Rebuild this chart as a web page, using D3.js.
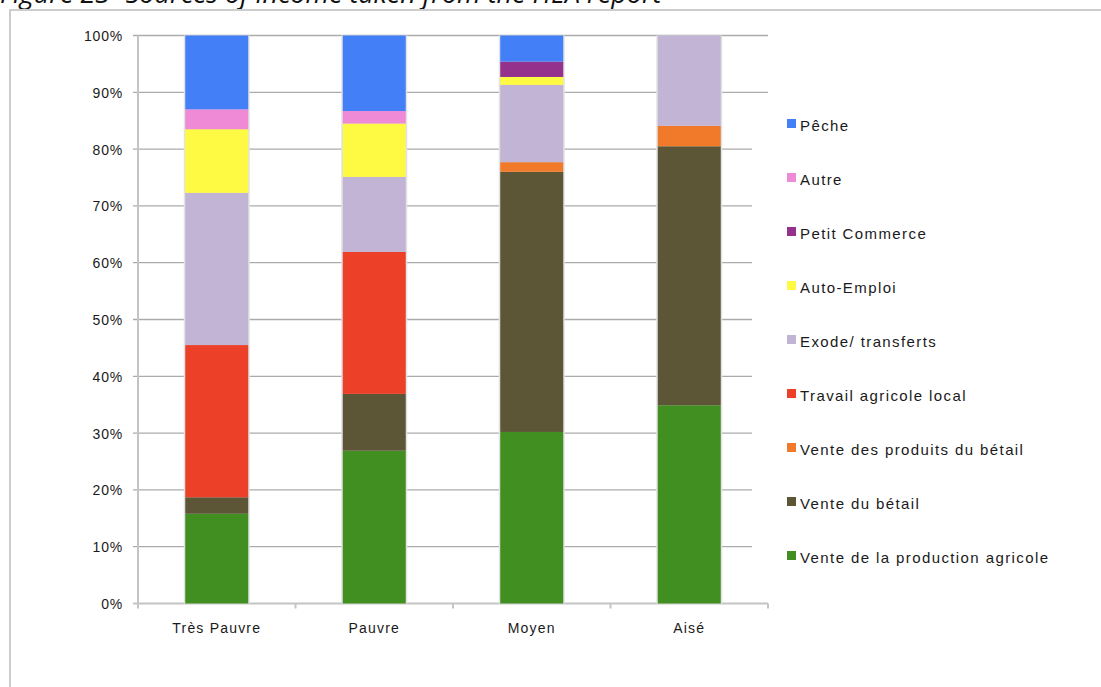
<!DOCTYPE html>
<html>
<head>
<meta charset="utf-8">
<script src="https://cdn.jsdelivr.net/npm/d3@7"></script>
<style>
  html, body { margin: 0; padding: 0; background: #fff; }
  svg { display: block; }
</style>
</head>
<body>
<svg id="chart" width="1101" height="687"></svg>
<script>
// Income groups (x axis)
const categories = ["Très Pauvre", "Pauvre", "Moyen", "Aisé"];

// Share of income per source, in %, for each group (bottom of the stack first)
const venteProductionAgricole = [15.8, 26.9, 30.2, 34.9];
const venteDuBetail           = [2.9, 10.0, 45.8, 45.6];
const venteProduitsDuBetail   = [0, 0, 1.7, 3.6];
const travailAgricoleLocal    = [26.8, 25.0, 0, 0];
const exodeTransferts         = [26.8, 13.2, 13.6, 15.9];
const autoEmploi              = [11.2, 9.4, 1.4, 0];
const petitCommerce           = [0, 0, 2.7, 0];
const autre                   = [3.5, 2.2, 0, 0];
const peche                   = [13.0, 13.3, 4.6, 0];

const seriesNames = [
  "Vente de la production agricole",
  "Vente du bétail",
  "Vente des produits du bétail",
  "Travail agricole local",
  "Exode/ transferts",
  "Auto-Emploi",
  "Petit Commerce",
  "Autre",
  "Pêche"
];
const seriesValues = [
  venteProductionAgricole, venteDuBetail, venteProduitsDuBetail,
  travailAgricoleLocal, exodeTransferts, autoEmploi,
  petitCommerce, autre, peche
];
const seriesColors = [
  "#418f20", "#5c5637", "#f07a2a", "#ec4028", "#c2b4d5",
  "#fef943", "#94318d", "#ef8ad7", "#4380f7"
];

const yTicks = [0, 10, 20, 30, 40, 50, 60, 70, 80, 90, 100];
const titleText = "Figure 23- Sources of income taken from the HEA report";

// Build table rows for d3.stack
const rows = categories.map((c, i) => {
  const r = { category: c };
  seriesNames.forEach((s, k) => { r[s] = seriesValues[k][i]; });
  return r;
});
const stacked = d3.stack().keys(seriesNames)(rows);

const svg = d3.select("#chart");
const font = "Arial, 'Liberation Sans', Helvetica, sans-serif";

// Page caption, partly cut by the top edge
svg.append("text")
  .attr("x", 0).attr("y", 3)
  .attr("font-family", "'Open Sans', sans-serif")
  .attr("font-style", "italic")
  .attr("font-size", 27)
  .attr("fill", "#111")
  .text(titleText);

// Frame around the chart
svg.append("path")
  .attr("d", "M10,687 V10 H1101")
  .attr("fill", "none")
  .attr("stroke", "#cdcdcd")
  .attr("stroke-width", 2);

const plot = { left: 138, right: 768, top: 35.5, bottom: 603.5 };

const x = d3.scaleBand()
  .domain(categories)
  .range([plot.left, plot.right])
  .paddingInner(0.6)
  .paddingOuter(0.3);

const y = d3.scaleLinear()
  .domain([0, 100])
  .range([plot.bottom, plot.top]);

// Horizontal grid lines
svg.append("g")
  .selectAll("line")
  .data(yTicks)
  .join("line")
  .attr("x1", plot.left - 5)
  .attr("x2", d => (d === 0 || d >= 90) ? plot.right : 752)
  .attr("y1", d => y(d))
  .attr("y2", d => y(d))
  .attr("stroke", d => d === 0 ? "#c4c4c4" : "#ababab")
  .attr("stroke-width", d => d === 0 ? 2 : 1.3);

// Y axis line
svg.append("line")
  .attr("x1", plot.left).attr("x2", plot.left)
  .attr("y1", plot.top).attr("y2", plot.bottom + 5)
  .attr("stroke", "#c4c4c4").attr("stroke-width", 2);

// Y tick labels
const yAxis = d3.axisLeft(y)
  .tickValues(yTicks)
  .tickFormat(d => d + "%")
  .tickSize(0)
  .tickPadding(15);
const gy = svg.append("g")
  .attr("transform", `translate(${plot.left},0)`)
  .call(yAxis);
gy.select(".domain").remove();
gy.selectAll("text")
  .attr("font-family", font)
  .attr("font-size", 14)
  .attr("letter-spacing", 0.8)
  .attr("fill", "#1a1a1a")
  .attr("dy", "0.35em");

// X axis: category boundary ticks and labels
const step = x.step();
const boundaries = categories.map((c, i) => plot.left + step * (i + 1));
svg.append("g")
  .selectAll("line")
  .data(boundaries)
  .join("line")
  .attr("x1", d => d).attr("x2", d => d)
  .attr("y1", plot.bottom).attr("y2", plot.bottom + 5)
  .attr("stroke", "#c4c4c4").attr("stroke-width", 2);

const xAxis = d3.axisBottom(x).tickSize(0).tickPadding(20);
const gx = svg.append("g")
  .attr("transform", `translate(0,${plot.bottom})`)
  .call(xAxis);
gx.select(".domain").remove();
gx.selectAll("text")
  .attr("font-family", font)
  .attr("font-size", 14)
  .attr("letter-spacing", 1.2)
  .attr("fill", "#1a1a1a");

// Soft edge behind each bar
svg.append("g")
  .selectAll("rect")
  .data(categories)
  .join("rect")
  .attr("x", d => x(d) - 1.5)
  .attr("width", x.bandwidth() + 3)
  .attr("y", y(100))
  .attr("height", y(0) - y(100))
  .attr("fill", "#e2e2e2");

// Stacked bars
svg.append("g")
  .selectAll("g")
  .data(stacked)
  .join("g")
  .attr("fill", (d, i) => seriesColors[i])
  .selectAll("rect")
  .data(d => d.map(p => ({ p, cat: p.data.category })))
  .join("rect")
  .attr("x", d => x(d.cat))
  .attr("width", x.bandwidth())
  .attr("y", d => y(d.p[1]))
  .attr("height", d => y(d.p[0]) - y(d.p[1]));

// Legend, top entry first
const legendOrder = seriesNames.map((s, i) => i).reverse();
const legend = svg.append("g")
  .selectAll("g")
  .data(legendOrder)
  .join("g")
  .attr("transform", (d, i) => `translate(787,${126 + i * 54})`);
legend.append("rect")
  .attr("x", 0).attr("y", -7)
  .attr("width", 9).attr("height", 9)
  .attr("fill", d => seriesColors[d]);
legend.append("text")
  .attr("x", 13).attr("y", 0)
  .attr("dy", "0.35em")
  .attr("font-family", font)
  .attr("font-size", 15)
  .attr("letter-spacing", 1.4)
  .attr("fill", "#1a1a1a")
  .text(d => seriesNames[d]);
</script>
</body>
</html>
